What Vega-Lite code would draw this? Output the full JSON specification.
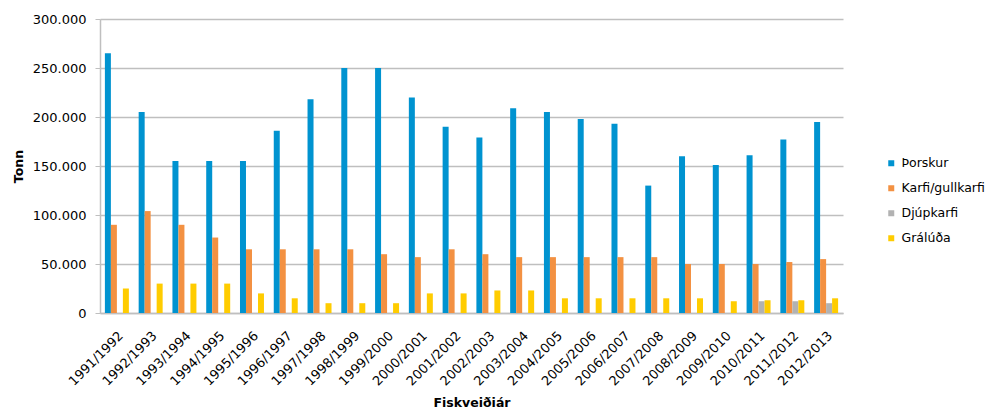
{
  "$schema": "https://vega.github.io/schema/vega-lite/v6.json",
  "width": 743,
  "height": 294,
  "autosize": {"type": "none"},
  "padding": {"left": 100, "top": 19, "right": 157, "bottom": 98},
  "config": {
    "view": {"stroke": null},
    "font": "DejaVu Sans",
    "locale": {"number": {"decimal": ",", "thousands": ".", "grouping": [3], "currency": ["", ""]}}
  },
  "data": {
    "values": [
      {"ar": "1991/1992", "teg": "Þorskur", "tonn": 265000},
      {"ar": "1991/1992", "teg": "Karfi/gullkarfi", "tonn": 90000},
      {"ar": "1991/1992", "teg": "Grálúða", "tonn": 25000},
      {"ar": "1992/1993", "teg": "Þorskur", "tonn": 205000},
      {"ar": "1992/1993", "teg": "Karfi/gullkarfi", "tonn": 104000},
      {"ar": "1992/1993", "teg": "Grálúða", "tonn": 30000},
      {"ar": "1993/1994", "teg": "Þorskur", "tonn": 155000},
      {"ar": "1993/1994", "teg": "Karfi/gullkarfi", "tonn": 90000},
      {"ar": "1993/1994", "teg": "Grálúða", "tonn": 30000},
      {"ar": "1994/1995", "teg": "Þorskur", "tonn": 155000},
      {"ar": "1994/1995", "teg": "Karfi/gullkarfi", "tonn": 77000},
      {"ar": "1994/1995", "teg": "Grálúða", "tonn": 30000},
      {"ar": "1995/1996", "teg": "Þorskur", "tonn": 155000},
      {"ar": "1995/1996", "teg": "Karfi/gullkarfi", "tonn": 65000},
      {"ar": "1995/1996", "teg": "Grálúða", "tonn": 20000},
      {"ar": "1996/1997", "teg": "Þorskur", "tonn": 186000},
      {"ar": "1996/1997", "teg": "Karfi/gullkarfi", "tonn": 65000},
      {"ar": "1996/1997", "teg": "Grálúða", "tonn": 15000},
      {"ar": "1997/1998", "teg": "Þorskur", "tonn": 218000},
      {"ar": "1997/1998", "teg": "Karfi/gullkarfi", "tonn": 65000},
      {"ar": "1997/1998", "teg": "Grálúða", "tonn": 10000},
      {"ar": "1998/1999", "teg": "Þorskur", "tonn": 250000},
      {"ar": "1998/1999", "teg": "Karfi/gullkarfi", "tonn": 65000},
      {"ar": "1998/1999", "teg": "Grálúða", "tonn": 10000},
      {"ar": "1999/2000", "teg": "Þorskur", "tonn": 250000},
      {"ar": "1999/2000", "teg": "Karfi/gullkarfi", "tonn": 60000},
      {"ar": "1999/2000", "teg": "Grálúða", "tonn": 10000},
      {"ar": "2000/2001", "teg": "Þorskur", "tonn": 220000},
      {"ar": "2000/2001", "teg": "Karfi/gullkarfi", "tonn": 57000},
      {"ar": "2000/2001", "teg": "Grálúða", "tonn": 20000},
      {"ar": "2001/2002", "teg": "Þorskur", "tonn": 190000},
      {"ar": "2001/2002", "teg": "Karfi/gullkarfi", "tonn": 65000},
      {"ar": "2001/2002", "teg": "Grálúða", "tonn": 20000},
      {"ar": "2002/2003", "teg": "Þorskur", "tonn": 179000},
      {"ar": "2002/2003", "teg": "Karfi/gullkarfi", "tonn": 60000},
      {"ar": "2002/2003", "teg": "Grálúða", "tonn": 23000},
      {"ar": "2003/2004", "teg": "Þorskur", "tonn": 209000},
      {"ar": "2003/2004", "teg": "Karfi/gullkarfi", "tonn": 57000},
      {"ar": "2003/2004", "teg": "Grálúða", "tonn": 23000},
      {"ar": "2004/2005", "teg": "Þorskur", "tonn": 205000},
      {"ar": "2004/2005", "teg": "Karfi/gullkarfi", "tonn": 57000},
      {"ar": "2004/2005", "teg": "Grálúða", "tonn": 15000},
      {"ar": "2005/2006", "teg": "Þorskur", "tonn": 198000},
      {"ar": "2005/2006", "teg": "Karfi/gullkarfi", "tonn": 57000},
      {"ar": "2005/2006", "teg": "Grálúða", "tonn": 15000},
      {"ar": "2006/2007", "teg": "Þorskur", "tonn": 193000},
      {"ar": "2006/2007", "teg": "Karfi/gullkarfi", "tonn": 57000},
      {"ar": "2006/2007", "teg": "Grálúða", "tonn": 15000},
      {"ar": "2007/2008", "teg": "Þorskur", "tonn": 130000},
      {"ar": "2007/2008", "teg": "Karfi/gullkarfi", "tonn": 57000},
      {"ar": "2007/2008", "teg": "Grálúða", "tonn": 15000},
      {"ar": "2008/2009", "teg": "Þorskur", "tonn": 160000},
      {"ar": "2008/2009", "teg": "Karfi/gullkarfi", "tonn": 50000},
      {"ar": "2008/2009", "teg": "Grálúða", "tonn": 15000},
      {"ar": "2009/2010", "teg": "Þorskur", "tonn": 151000},
      {"ar": "2009/2010", "teg": "Karfi/gullkarfi", "tonn": 50000},
      {"ar": "2009/2010", "teg": "Grálúða", "tonn": 12000},
      {"ar": "2010/2011", "teg": "Þorskur", "tonn": 161000},
      {"ar": "2010/2011", "teg": "Karfi/gullkarfi", "tonn": 50000},
      {"ar": "2010/2011", "teg": "Djúpkarfi", "tonn": 12000},
      {"ar": "2010/2011", "teg": "Grálúða", "tonn": 13000},
      {"ar": "2011/2012", "teg": "Þorskur", "tonn": 177000},
      {"ar": "2011/2012", "teg": "Karfi/gullkarfi", "tonn": 52000},
      {"ar": "2011/2012", "teg": "Djúpkarfi", "tonn": 12000},
      {"ar": "2011/2012", "teg": "Grálúða", "tonn": 13000},
      {"ar": "2012/2013", "teg": "Þorskur", "tonn": 195000},
      {"ar": "2012/2013", "teg": "Karfi/gullkarfi", "tonn": 55000},
      {"ar": "2012/2013", "teg": "Djúpkarfi", "tonn": 10000},
      {"ar": "2012/2013", "teg": "Grálúða", "tonn": 15000}
    ]
  },
  "mark": {"type": "bar", "width": 6},
  "encoding": {
    "x": {
      "field": "ar",
      "type": "nominal",
      "scale": {"paddingInner": 0.29, "paddingOuter": 0.145},
      "axis": {
        "title": "Fiskveiðiár",
        "titleFontSize": 12.5,
        "titleFontWeight": "bold",
        "titleColor": "#000000",
        "titlePadding": 8,
        "labelAngle": -45,
        "labelFontSize": 13,
        "labelColor": "#000000",
        "labelPadding": 16,
        "ticks": false,
        "domainColor": "#bfbfbf",
        "domainWidth": 1.5
      }
    },
    "xOffset": {
      "field": "teg",
      "type": "nominal",
      "scale": {"domain": ["Þorskur", "Karfi/gullkarfi", "Djúpkarfi", "Grálúða"], "paddingInner": 0, "paddingOuter": 0}
    },
    "y": {
      "field": "tonn",
      "type": "quantitative",
      "scale": {"domain": [0, 300000]},
      "axis": {
        "title": "Tonn",
        "titleFontSize": 12.5,
        "titleFontWeight": "bold",
        "titleColor": "#000000",
        "titleX": -82,
        "titleY": 147,
        "titleAngle": -90,
        "titleAlign": "center",
        "titleBaseline": "middle",
        "values": [0, 50000, 100000, 150000, 200000, 250000, 300000],
        "format": ",d",
        "labelFontSize": 13,
        "labelColor": "#000000",
        "labelPadding": 9,
        "tickSize": 5,
        "tickColor": "#bfbfbf",
        "domainColor": "#bfbfbf",
        "domainWidth": 1.5,
        "gridColor": "#bfbfbf",
        "gridWidth": 1.3
      }
    },
    "color": {
      "field": "teg",
      "type": "nominal",
      "scale": {
        "domain": ["Þorskur", "Karfi/gullkarfi", "Djúpkarfi", "Grálúða"],
        "range": ["#0093D0", "#F39142", "#B2B2B2", "#FFCC00"]
      },
      "legend": {
        "title": null,
        "orient": "none",
        "legendX": 785,
        "legendY": 138,
        "symbolType": "square",
        "symbolSize": 36,
        "symbolStrokeWidth": 0,
        "labelFontSize": 12.5,
        "labelColor": "#000000",
        "rowPadding": 12,
        "labelOffset": 4
      }
    }
  }
}
